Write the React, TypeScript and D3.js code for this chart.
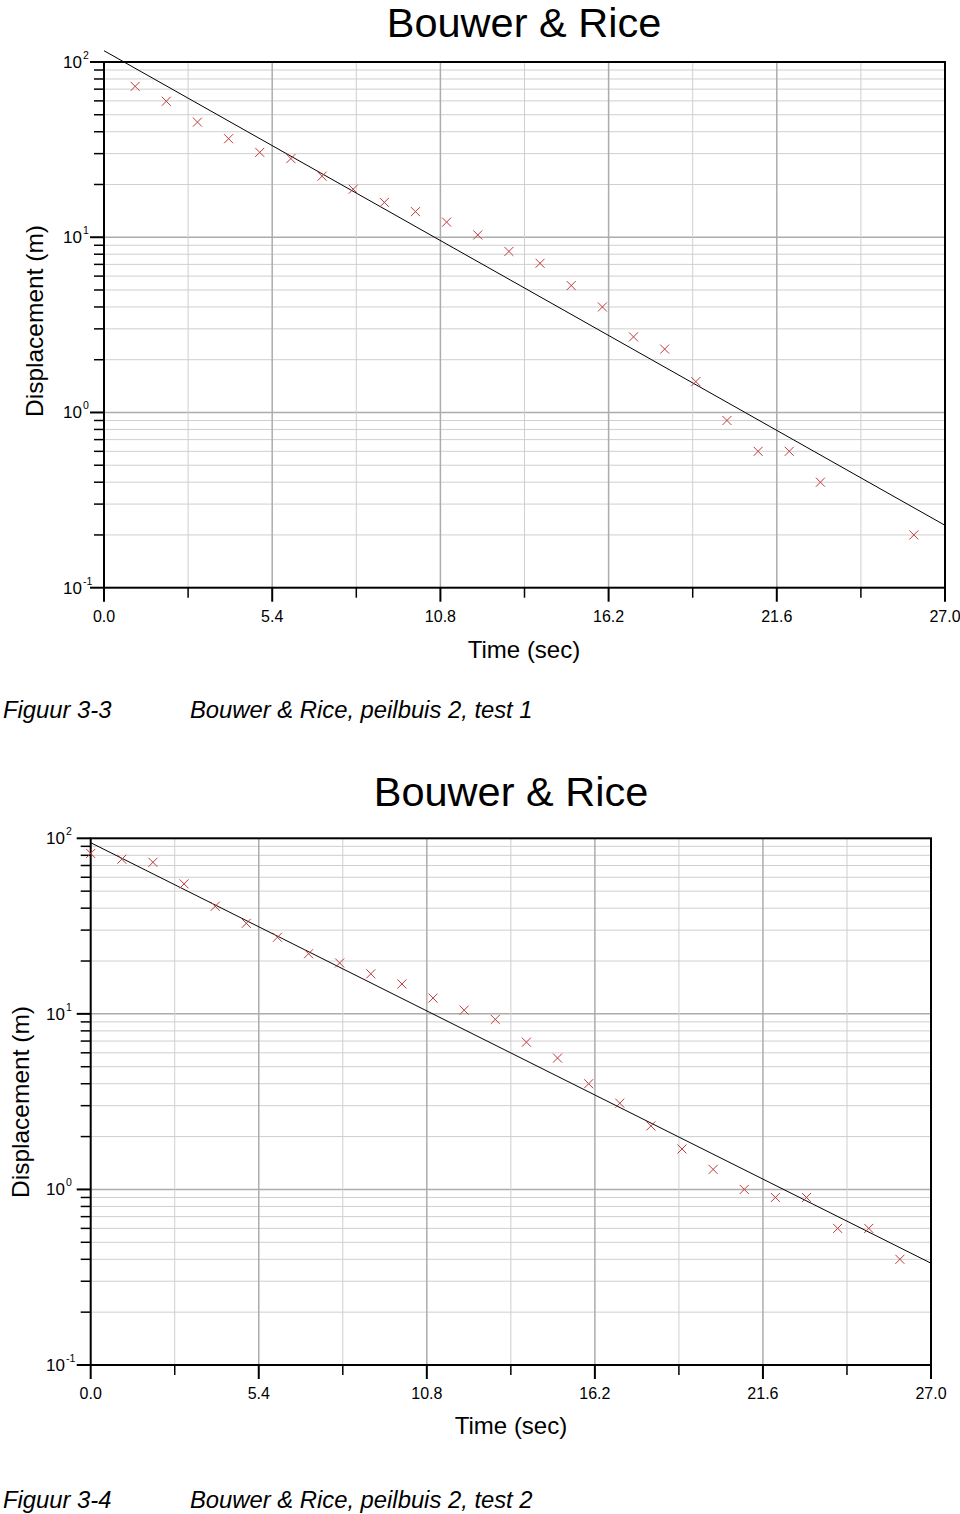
import React from "react";
import * as d3 from "d3";

// ---------- data ----------
const timeTicks = [0, 5.4, 10.8, 16.2, 21.6, 27.0];
const timeMinorTicks = [2.7, 8.1, 13.5, 18.9, 24.3];
const decadeTicks = [0.1, 1, 10, 100];
const decadeExponents = ["-1", "0", "1", "2"];

const test1Time = [1, 2, 3, 4, 5, 6, 7, 8, 9, 10, 11, 12, 13, 14, 15, 16, 17, 18, 19, 20, 21, 22, 23, 26];
const test1Disp = [72.6, 59.7, 45.4, 36.5, 30.5, 28.1, 22.3, 18.8, 15.8, 14.0, 12.2, 10.3, 8.3, 7.1, 5.3, 4.0, 2.7, 2.3, 1.5, 0.9, 0.6, 0.6, 0.4, 0.2];
const test1FitTime = [0, 27];
const test1FitDisp = [116, 0.227];

const test2Time = [0, 1, 2, 3, 4, 5, 6, 7, 8, 9, 10, 11, 12, 13, 14, 15, 16, 17, 18, 19, 20, 21, 22, 23, 24, 25, 26];
const test2Disp = [82, 76, 73, 55, 41, 32.8, 27.3, 22, 19.5, 16.9, 14.8, 12.3, 10.5, 9.3, 6.9, 5.6, 4.0, 3.1, 2.3, 1.7, 1.3, 1.0, 0.9, 0.9, 0.6, 0.6, 0.4];
const test2FitTime = [0, 27];
const test2FitDisp = [94.4, 0.38];

const chartTitle = "Bouwer & Rice";
const xLabel = "Time (sec)";
const yLabel = "Displacement (m)";
const captions = [
  ["Figuur 3-3", "Bouwer & Rice, peilbuis 2, test 1"],
  ["Figuur 3-4", "Bouwer & Rice, peilbuis 2, test 2"],
];

const FONT = "'Liberation Sans', Arial, sans-serif";

type ChartProps = {
  left: number; right: number; top: number; bottom: number;
  titleX: number; titleY: number;
  xTickY: number; xLabelX: number; xLabelY: number;
  yLabelX: number; yLabelY: number; yTickRight: number;
  captionY: number; caption: string[];
  times: number[]; disp: number[]; fitT: number[]; fitD: number[];
};

function Chart(p: ChartProps) {
  const x = d3.scaleLinear().domain([0, 27]).range([p.left, p.right]);
  const y = d3.scaleLog().domain([0.1, 100]).range([p.bottom, p.top]);
  const minorY: number[] = [];
  [0.1, 1, 10].forEach((d) => {
    for (let k = 2; k <= 9; k++) minorY.push(d * k);
  });
  const line = d3
    .line<number>()
    .x((_, i) => x(p.fitT[i]))
    .y((d) => y(d));
  const m = 4.5;
  return (
    <g>
      <text x={p.titleX} y={p.titleY} textAnchor="middle" fontFamily={FONT} fontSize={41.5} fill="#000">
        {chartTitle}
      </text>
      {/* horizontal grid */}
      {minorY.map((v, i) => (
        <line key={"hg" + i} x1={p.left} x2={p.right} y1={y(v)} y2={y(v)} stroke="#cfcfcf" strokeWidth={1} />
      ))}
      {decadeTicks.slice(1, 3).map((v, i) => (
        <line key={"hd" + i} x1={p.left} x2={p.right} y1={y(v)} y2={y(v)} stroke="#acacac" strokeWidth={1.5} />
      ))}
      {/* vertical grid */}
      {timeMinorTicks.map((t, i) => (
        <line key={"vm" + i} x1={x(t)} x2={x(t)} y1={p.top} y2={p.bottom} stroke="#cfcfcf" strokeWidth={1} />
      ))}
      {timeTicks.slice(1, 5).map((t, i) => (
        <line key={"vM" + i} x1={x(t)} x2={x(t)} y1={p.top} y2={p.bottom} stroke="#acacac" strokeWidth={1.5} />
      ))}
      {/* frame */}
      <rect x={p.left} y={p.top} width={p.right - p.left} height={p.bottom - p.top} fill="none" stroke="#000" strokeWidth={2} />
      {/* x ticks */}
      {timeTicks.map((t, i) => (
        <line key={"xt" + i} x1={x(t)} x2={x(t)} y1={p.bottom} y2={p.bottom + 14} stroke="#000" strokeWidth={2} />
      ))}
      {timeMinorTicks.map((t, i) => (
        <line key={"xm" + i} x1={x(t)} x2={x(t)} y1={p.bottom} y2={p.bottom + 10} stroke="#000" strokeWidth={1.5} />
      ))}
      {timeTicks.map((t, i) => (
        <text key={"xl" + i} x={x(t)} y={p.xTickY} textAnchor="middle" fontFamily={FONT} fontSize={16} fill="#000">
          {t.toFixed(1)}
        </text>
      ))}
      {/* y ticks */}
      {decadeTicks.map((v, i) => (
        <line key={"yt" + i} x1={p.left - 14} x2={p.left} y1={y(v)} y2={y(v)} stroke="#000" strokeWidth={2} />
      ))}
      {minorY.map((v, i) => (
        <line key={"ym" + i} x1={p.left - 10} x2={p.left} y1={y(v)} y2={y(v)} stroke="#000" strokeWidth={1.5} />
      ))}
      {decadeTicks.map((v, i) => (
        <text key={"yl" + i} x={p.yTickRight} y={y(v) + 6} textAnchor="end" fontFamily={FONT} fontSize={17} fill="#000">
          10
        </text>
      ))}
      {decadeTicks.map((v, i) => (
        <text key={"ye" + i} x={p.yTickRight + 1} y={y(v) - 3} fontFamily={FONT} fontSize={10.5} fill="#000">
          {decadeExponents[i]}
        </text>
      ))}
      {/* axis labels */}
      <text x={p.xLabelX} y={p.xLabelY} textAnchor="middle" fontFamily={FONT} fontSize={24} fill="#000">
        {xLabel}
      </text>
      <text
        transform={`translate(${p.yLabelX},${p.yLabelY}) rotate(-90)`}
        textAnchor="middle"
        fontFamily={FONT}
        fontSize={24.5}
        fill="#000"
      >
        {yLabel}
      </text>
      {/* fit line */}
      <path d={line(p.fitD) || ""} fill="none" stroke="#000" strokeWidth={1} />
      {/* data markers */}
      {p.times.map((t, i) => {
        const cx = x(t);
        const cy = y(p.disp[i]);
        return (
          <g key={"pt" + i} stroke="#c03a3c" strokeWidth={1}>
            <line x1={cx - m} y1={cy - m} x2={cx + m} y2={cy + m} />
            <line x1={cx - m} y1={cy + m} x2={cx + m} y2={cy - m} />
          </g>
        );
      })}
      {/* caption */}
      <text x={3} y={p.captionY} fontFamily={FONT} fontStyle="italic" fontSize={23.8} fill="#000">
        {p.caption[0]}
      </text>
      <text x={190} y={p.captionY} fontFamily={FONT} fontStyle="italic" fontSize={23.8} fill="#000">
        {p.caption[1]}
      </text>
    </g>
  );
}

export default function App() {
  return (
    <svg
      width={960}
      height={1514}
      style={{ position: "absolute", left: 0, top: 0, background: "#fff" }}
      xmlns="http://www.w3.org/2000/svg"
    >
      <rect x={0} y={0} width={960} height={1514} fill="#fff" />
      <Chart
        left={104} right={945} top={62} bottom={587.7}
        titleX={524} titleY={37}
        xTickY={622} xLabelX={524} xLabelY={658}
        yLabelX={43} yLabelY={321} yTickRight={82}
        captionY={718} caption={captions[0]}
        times={test1Time} disp={test1Disp} fitT={test1FitTime} fitD={test1FitDisp}
      />
      <Chart
        left={90.7} right={931} top={838.3} bottom={1365}
        titleX={511} titleY={806}
        xTickY={1399} xLabelX={511} xLabelY={1434}
        yLabelX={29} yLabelY={1102} yTickRight={65}
        captionY={1508} caption={captions[1]}
        times={test2Time} disp={test2Disp} fitT={test2FitTime} fitD={test2FitDisp}
      />
    </svg>
  );
}
